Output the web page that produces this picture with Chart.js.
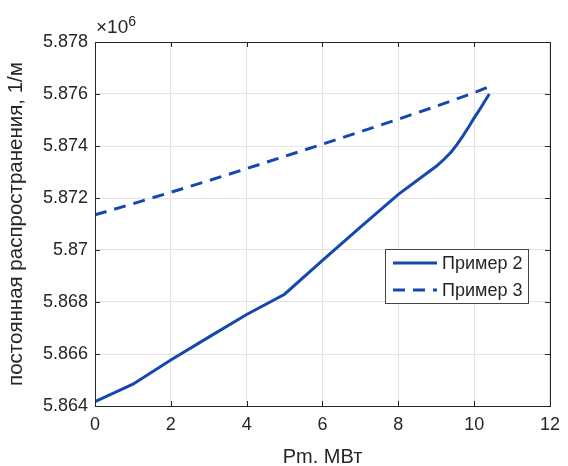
<!DOCTYPE html>
<html>
<head>
<meta charset="utf-8">
<script src="https://cdn.jsdelivr.net/npm/chart.js@4/dist/chart.umd.min.js"></script>
<style>
html,body{margin:0;padding:0;background:#fff;}
#wrap{width:568px;height:466px;}
</style>
</head>
<body>
<div id="wrap"><canvas id="c" width="568" height="466"></canvas></div>
<script>
// Data (y values in units of 10^6 1/m)
const xSeries2 = [0, 1, 2, 3, 4, 5, 6, 7, 8, 9, 9.2, 9.4, 9.55, 9.7, 9.85, 10, 10.1, 10.2, 10.3, 10.4];
const ySeries2 = [5.86417, 5.86484, 5.86577, 5.86665, 5.86752, 5.86830, 5.86960, 5.87088, 5.87214, 5.87322, 5.87348, 5.87378, 5.87406, 5.87438, 5.87472, 5.87508, 5.87530, 5.87553, 5.87577, 5.87600];
const xSeries3 = [0, 1, 2, 3, 4, 5, 6, 7, 8, 9, 10, 10.5];
const ySeries3 = [5.87135, 5.87178, 5.87222, 5.87267, 5.87313, 5.87360, 5.87407, 5.87455, 5.87503, 5.87553, 5.87605, 5.87635];
const seriesLabels = ['Пример 2', 'Пример 3'];
const xTicks = [0, 2, 4, 6, 8, 10, 12];
const yTicks = [5.864, 5.866, 5.868, 5.87, 5.872, 5.874, 5.876, 5.878];
const xTitle = 'Pm. МВт';
const yTitle = 'постоянная распространения, 1/м';
const yExponent = '6';

const FONT = 'Liberation Sans, Arial, Helvetica, sans-serif';
const AXIS = '#262626';
const BLUE = '#1448b0';

const toPts = (xs, ys) => xs.map((x, i) => ({x: x, y: ys[i]}));

const extras = {
  id: 'extras',
  afterDraw(chart) {
    const {ctx, chartArea: a, scales} = chart;
    const xs = scales.x, ys = scales.y;
    ctx.save();
    // box
    ctx.strokeStyle = AXIS;
    ctx.lineWidth = 1;
    ctx.strokeRect(Math.round(a.left) + 0.5, Math.round(a.top) + 0.5, Math.round(a.right - a.left), Math.round(a.bottom - a.top));
    // inward ticks
    ctx.beginPath();
    xTicks.forEach(v => {
      const p = Math.round(xs.getPixelForValue(v)) + 0.5;
      ctx.moveTo(p, a.bottom); ctx.lineTo(p, a.bottom - 5);
      ctx.moveTo(p, a.top); ctx.lineTo(p, a.top + 5);
    });
    yTicks.forEach(v => {
      const p = Math.round(ys.getPixelForValue(v)) + 0.5;
      ctx.moveTo(a.left, p); ctx.lineTo(a.left + 5, p);
      ctx.moveTo(a.right, p); ctx.lineTo(a.right - 5, p);
    });
    ctx.stroke();
    // exponent label
    ctx.fillStyle = AXIS;
    ctx.textBaseline = 'alphabetic';
    ctx.textAlign = 'left';
    ctx.font = '19px ' + FONT;
    ctx.fillText('×10', a.left + 1, a.top - 9);
    const w = ctx.measureText('×10').width;
    ctx.font = '14px ' + FONT;
    ctx.fillText(yExponent, a.left + 1 + w, a.top - 16);
    // legend
    const bx = 385, by = 249, bw = 143, bh = 54;
    ctx.fillStyle = '#fff';
    ctx.fillRect(bx, by, bw, bh);
    ctx.strokeStyle = '#444';
    ctx.strokeRect(bx + 0.5, by + 0.5, bw, bh);
    chart.data.datasets.forEach((ds, i) => {
      const yy = by + 14 + i * 27;
      ctx.strokeStyle = ds.borderColor;
      ctx.lineWidth = 3;
      ctx.setLineDash(ds.borderDash || []);
      ctx.beginPath();
      ctx.moveTo(bx + 8, yy); ctx.lineTo(bx + 52, yy);
      ctx.stroke();
      ctx.setLineDash([]);
      ctx.fillStyle = AXIS;
      ctx.font = '18px ' + FONT;
      ctx.textBaseline = 'middle';
      ctx.fillText(ds.label, bx + 57, yy + 1);
    });
    ctx.restore();
  }
};

new Chart(document.getElementById('c'), {
  type: 'line',
  data: {
    datasets: [
      {label: seriesLabels[0], data: toPts(xSeries2, ySeries2), borderColor: BLUE, borderWidth: 3, pointRadius: 0, tension: 0, fill: false},
      {label: seriesLabels[1], data: toPts(xSeries3, ySeries3), borderColor: BLUE, borderWidth: 3, borderDash: [12, 8], pointRadius: 0, tension: 0, fill: false}
    ]
  },
  options: {
    responsive: false,
    animation: false,
    devicePixelRatio: 1,
    layout: {padding: {left: 0, right: 15, top: 42, bottom: 0}},
    plugins: {legend: {display: false}, tooltip: {enabled: false}},
    scales: {
      x: {
        type: 'linear', min: 0, max: 12,
        afterBuildTicks: s => { s.ticks = xTicks.map(v => ({value: v})); },
        afterFit: s => { s.height = 60; },
        grid: {color: '#e3e3e3', drawTicks: false},
        border: {display: true, color: AXIS},
        ticks: {color: AXIS, font: {family: FONT, size: 18}, padding: 8, maxRotation: 0, callback: v => String(v)},
        title: {display: true, text: xTitle, color: AXIS, font: {family: FONT, size: 20}, padding: {top: 0, bottom: -3}}
      },
      y: {
        type: 'linear', min: 5.864, max: 5.878,
        afterBuildTicks: s => { s.ticks = yTicks.map(v => ({value: v})); },
        afterFit: s => { s.width = 95; },
        grid: {color: '#e3e3e3', drawTicks: false},
        border: {display: true, color: AXIS},
        ticks: {color: AXIS, font: {family: FONT, size: 18}, padding: 7, callback: v => String(parseFloat(v.toFixed(3)))},
        title: {display: true, text: yTitle, color: AXIS, font: {family: FONT, size: 20.5}, padding: {top: 4, bottom: 0}}
      }
    }
  },
  plugins: [extras]
});
</script>
</body>
</html>
